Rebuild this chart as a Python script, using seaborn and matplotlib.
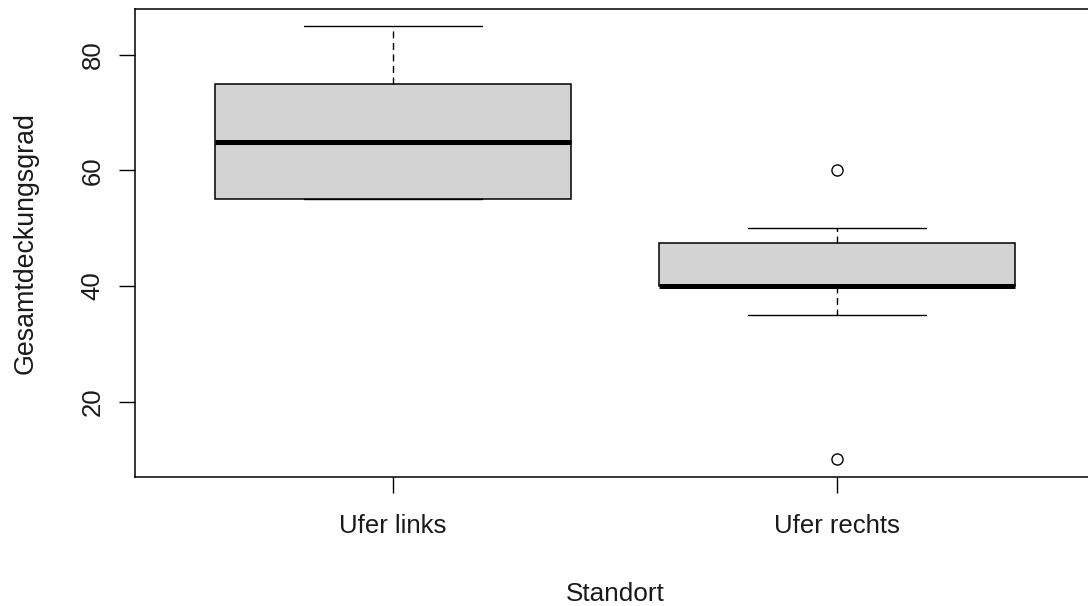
import matplotlib
matplotlib.use("Agg")
import matplotlib.pyplot as plt
import seaborn as sns
import pandas as pd

# Gesamtdeckungsgrad (%) je Standort
standorte = ["Ufer links", "Ufer rechts"]
ufer_links = [55, 55, 65, 75, 85]
ufer_rechts = [10, 35, 40, 40, 40, 40, 45, 45, 50, 50, 60]
y_ticks = [20, 40, 60, 80]

df = pd.DataFrame({
    "Standort": [standorte[0]] * len(ufer_links) + [standorte[1]] * len(ufer_rechts),
    "Gesamtdeckungsgrad": ufer_links + ufer_rechts,
})

sns.set_style("white")
plt.rcParams["font.family"] = ["Liberation Sans", "DejaVu Sans"]
fs = 18.5

fig = plt.figure(figsize=(10.88, 6.06), dpi=100)
ax = fig.add_axes([0.1245, 0.2134, 0.8814, 0.7723])

sns.boxplot(
    data=df, x="Standort", y="Gesamtdeckungsgrad", order=standorte,
    color="#D3D3D3", saturation=1, linecolor="black", linewidth=1.1,
    width=0.8, whis=1.5, ax=ax,
    whiskerprops={"linestyle": (0, (5, 3.3)), "linewidth": 1.0},
    capprops={"linewidth": 1.0},
    medianprops={"linewidth": 3.6, "color": "black"},
    flierprops={"marker": "o", "markerfacecolor": "none",
                "markeredgecolor": "black", "markeredgewidth": 1.0},
    fliersize=8,
)

ax.set_xlim(-0.58, 1.58)
ax.set_ylim(7, 88)
ax.set_yticks(y_ticks)

for s in ax.spines.values():
    s.set_visible(True)
    s.set_color("black")
    s.set_linewidth(1.1)

ax.tick_params(axis="both", direction="out", length=11.5, width=1.0,
               color="black", labelsize=fs, labelcolor="#1a1a1a")
ax.tick_params(axis="x", pad=15.5, bottom=True)
ax.tick_params(axis="y", pad=10.8, left=True, labelrotation=90)
for lab in ax.get_yticklabels():
    lab.set_va("center")

ax.set_xlabel("Standort", fontsize=18.8, color="#1a1a1a", va="top")
ax.set_ylabel("Gesamtdeckungsgrad", fontsize=19.3, color="#1a1a1a")
ax.xaxis.set_label_coords(0.5, -0.2244)
ax.yaxis.set_label_coords(-0.1011, 0.5)

fig.savefig("out.png", dpi=100)
